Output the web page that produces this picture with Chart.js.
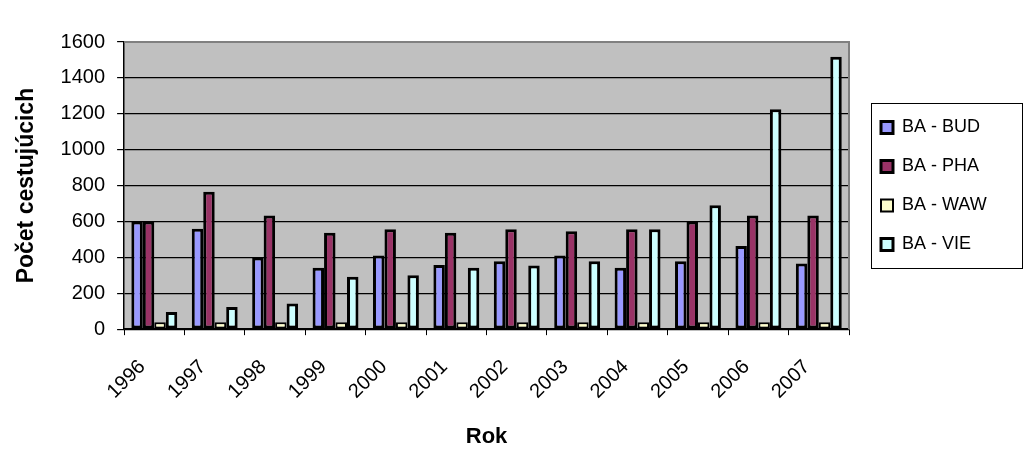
<!DOCTYPE html>
<html>
<head>
<meta charset="utf-8">
<script src="https://cdn.jsdelivr.net/npm/chart.js@4"></script>
<style>
  html, body { margin: 0; padding: 0; background: #fff; }
  #wrap { width: 1024px; height: 462px; }
</style>
</head>
<body>
<div id="wrap"><canvas id="passengers"></canvas></div>
<script>
var years = ['1996', '1997', '1998', '1999', '2000', '2001', '2002', '2003', '2004', '2005', '2006', '2007'];
var bud = [600, 560, 400, 342, 411, 357, 379, 411, 342, 379, 463, 366];
var pha = [600, 765, 634, 537, 557, 537, 557, 546, 557, 600, 634, 634];
var waw = [38, 38, 38, 38, 38, 38, 38, 38, 38, 38, 38, 38];
var vie = [96, 124, 143, 292, 301, 342, 355, 379, 557, 691, 1226, 1518];
var yTicks = [0, 200, 400, 600, 800, 1000, 1200, 1400, 1600];

var font = "'Liberation Sans', Arial, sans-serif";

function series(label, values, color, bw) {
    return {
        label: label,
        data: values,
        backgroundColor: color,
        borderColor: '#000',
        borderWidth: bw || 3,
        borderSkipped: false,
        barPercentage: 1.0,
        categoryPercentage: 0.76
    };
}

// grey plot area + frame, like the old Excel look
var plotFrame = {
    id: 'plotFrame',
    beforeLayout: function (chart) {
        var lg = chart.legend;
        if (lg && !lg._wide) {
            var fit = lg.fit;
            lg.fit = function () {
                fit.call(this);
                this.width = 175;
            };
            lg._wide = true;
        }
    },
    afterLayout: function (chart) {
        // move the legend items to where the old chart had them
        var lg = chart.legend;
        if (lg) {
            lg.left += 11;
            lg.top -= 62;
            lg.bottom -= 62;
        }
    },
    beforeDraw: function (chart) {
        var a = chart.chartArea, ctx = chart.ctx;
        ctx.save();
        ctx.fillStyle = '#c0c0c0';
        ctx.fillRect(a.left, a.top, a.right - a.left, a.bottom - a.top);
        ctx.restore();
    },
    afterDraw: function (chart) {
        var a = chart.chartArea, ctx = chart.ctx;
        ctx.save();
        ctx.strokeStyle = '#808080';
        ctx.lineWidth = 2;
        ctx.beginPath();
        ctx.moveTo(a.left, a.top);
        ctx.lineTo(a.right, a.top);
        ctx.lineTo(a.right, a.bottom);
        ctx.stroke();
        // legend frame
        var lg = chart.legend;
        if (lg && lg.legendHitBoxes.length) {
            var hb = lg.legendHitBoxes;
            var top = hb[0].top - 16;
            var bottom = hb[hb.length - 1].top + hb[hb.length - 1].height + 14;
            ctx.strokeStyle = '#000';
            ctx.lineWidth = 1;
            ctx.strokeRect(871.5, Math.round(top) + 0.5, 151, Math.round(bottom - top));
        }
        ctx.restore();
    }
};

var layout = {
    type: 'bar',
    data: {
        labels: years,
        datasets: [
            series('BA - BUD', bud, '#9999ff'),
            series('BA - PHA', pha, '#993366'),
            series('BA - WAW', waw, '#ffffcc', 2),
            series('BA - VIE', vie, '#ccffff')
        ]
    },
    options: {
        responsive: true,
        maintainAspectRatio: false,
        animation: false,
        layout: {
            padding: { top: 42, right: 0, left: 3, bottom: 8 }
        },
        scales: {
            x: {
                offset: true,
                grid: {
                    offset: true,
                    drawOnChartArea: false,
                    color: '#000',
                    tickLength: 6
                },
                border: { color: '#000', width: 1.5 },
                ticks: {
                    color: '#000',
                    minRotation: 45,
                    maxRotation: 45,
                    padding: 20,
                    labelOffset: -12,
                    font: { family: font, size: 20 }
                },
                title: {
                    display: true,
                    text: 'Rok',
                    color: '#000',
                    font: { family: font, size: 22, weight: 'bold' },
                    padding: { top: 0 }
                }
            },
            y: {
                min: 0,
                max: 1600,
                afterBuildTicks: function (axis) {
                    axis.ticks = yTicks.map(function (v) { return { value: v }; });
                },
                grid: {
                    color: '#000',
                    lineWidth: 1.2,
                    tickLength: 7
                },
                border: { color: '#000', width: 1.5 },
                ticks: {
                    color: '#000',
                    padding: 12,
                    font: { family: font, size: 20 },
                    callback: function (v) { return String(v); }
                },
                title: {
                    display: true,
                    text: 'Počet cestujúcich',
                    color: '#000',
                    font: { family: font, size: 23, weight: 'bold' },
                    padding: { top: 10, bottom: 8 }
                }
            }
        },
        plugins: {
            legend: {
                position: 'right',
                labels: {
                    color: '#000',
                    boxWidth: 12,
                    boxHeight: 12,
                    padding: 21,
                    font: { family: font, size: 18 }
                }
            },
            tooltip: { enabled: false }
        }
    },
    plugins: [plotFrame]
};

new Chart(document.getElementById('passengers'), layout);
</script>
</body>
</html>
